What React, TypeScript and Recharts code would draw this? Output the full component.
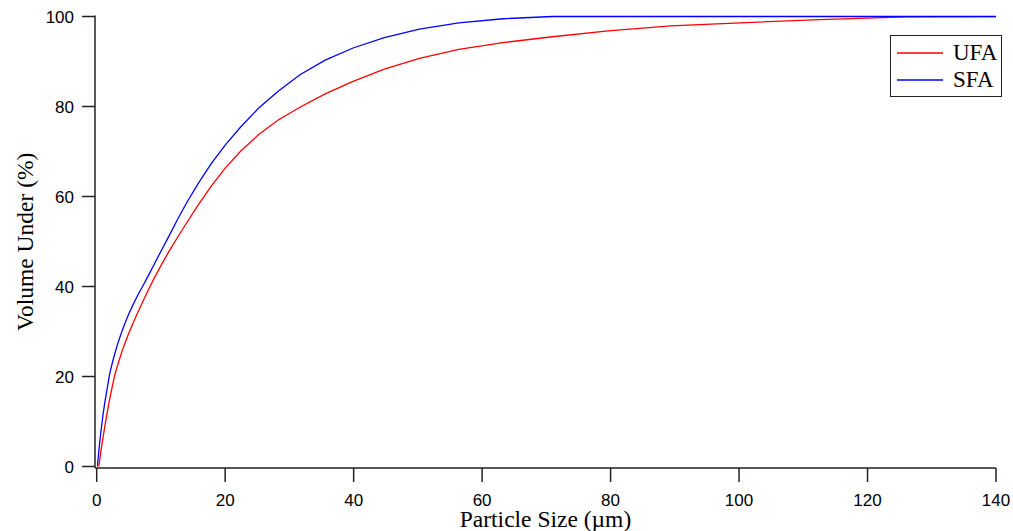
import React from 'react';
import { LineChart, Line, XAxis, YAxis, Legend } from 'recharts';

const sizes = [0.1, 0.2, 0.317, 0.502, 0.71, 1.002, 1.262, 1.589, 2.0, 2.244, 2.518, 2.825, 3.17, 3.557, 3.991, 4.477, 5.024, 5.637, 6.325, 7.096, 7.962, 8.934, 10.02, 11.25, 12.62, 14.16, 15.89, 17.83, 20.0, 22.44, 25.18, 28.25, 31.7, 35.57, 39.91, 44.77, 50.24, 56.37, 63.25, 70.96, 79.62, 89.34, 100.2, 112.5, 126.2, 141.6];

const ufaValues: (number | null)[] = [null, null, 0, 1.8, 3.9, 6.6, 8.9, 11.6, 14.8, 16.5, 18.4, 20.4, 22.1, 23.9, 25.8, 27.7, 29.7, 31.8, 34.0, 36.4, 39.0, 41.8, 44.7, 47.8, 51.0, 54.5, 58.3, 62.3, 66.3, 70.1, 73.7, 77.0, 79.9, 82.8, 85.6, 88.3, 90.7, 92.7, 94.2, 95.5, 96.8, 97.9, 98.6, 99.3, 99.9, 100];

const sfaValues: number[] = [0, 1.5, 3.2, 5.8, 8.4, 11.7, 14.2, 17.0, 20.4, 21.9, 23.5, 25.1, 26.8, 28.5, 30.3, 32.1, 34.0, 35.9, 37.9, 39.9, 42.2, 44.9, 47.9, 51.2, 55.0, 59.0, 63.1, 67.3, 71.4, 75.5, 79.6, 83.4, 87.1, 90.3, 93.0, 95.3, 97.2, 98.6, 99.5, 100, 100, 100, 100, 100, 100, 100];

const xTicks = [0, 20, 40, 60, 80, 100, 120, 140];
const yTicks = [0, 20, 40, 60, 80, 100];

const seriesNames = ['UFA', 'SFA'];
const seriesColors = ['#ff0000', '#0000ff'];

const data = sizes.map((s, i) => ({ size: s, ufa: ufaValues[i], sfa: sfaValues[i] }));

const tickStyle = { fontFamily: '"Liberation Sans", Arial, sans-serif', fontSize: 17, fill: '#000' };
const serif = '"Liberation Serif", "Times New Roman", serif';

const LegendBox = () => (
  <div
    style={{
      border: '1.5px solid #222',
      width: 112,
      height: 62,
      boxSizing: 'border-box',
      background: '#fff',
      fontFamily: serif,
      fontSize: 23,
      color: '#000',
      position: 'relative',
    }}
  >
    {seriesNames.map((n, i) => (
      <div key={n} style={{ position: 'absolute', left: 6, top: 4 + i * 27, height: 26, display: 'flex', alignItems: 'center' }}>
        <svg width={46} height={4} style={{ display: 'block' }}>
          <line x1={0} y1={2} x2={46} y2={2} stroke={seriesColors[i]} strokeWidth={1.3} />
        </svg>
        <span style={{ marginLeft: 10, lineHeight: '26px' }}>{n}</span>
      </div>
    ))}
  </div>
);

export default function App() {
  return (
    <div style={{ position: 'absolute', left: 0, top: 0, width: 1013, height: 531, background: '#fff' }}>
      <LineChart width={1013} height={531} data={data} margin={{ top: 15.5, right: 17, bottom: 0, left: 0 }}>
        <XAxis
          dataKey="size"
          type="number"
          domain={[0, 140]}
          ticks={xTicks}
          allowDataOverflow
          padding={{ left: 1.7, right: 0 }}
          height={63}
          tickSize={14}
          tickMargin={12}
          tick={tickStyle}
          axisLine={{ stroke: '#222', strokeWidth: 1.5 }}
          tickLine={{ stroke: '#222', strokeWidth: 1.5 }}
          label={{
            content: (props: any) => {
              const vb = props.viewBox || { x: 95, width: 901 };
              return (
                <text x={vb.x + vb.width / 2} y={526.5} textAnchor="middle" fontFamily={serif} fontSize={23.5} fill="#000">
                  Particle Size (µm)
                </text>
              );
            },
          }}
        />
        <YAxis
          type="number"
          domain={[0, 100]}
          ticks={yTicks}
          padding={{ top: 1, bottom: 1.5 }}
          width={95}
          tickSize={13}
          tickMargin={8}
          tick={tickStyle}
          axisLine={{ stroke: '#222', strokeWidth: 1.5 }}
          tickLine={{ stroke: '#222', strokeWidth: 1.5 }}
          label={{
            content: (props: any) => {
              const vb = props.viewBox || { y: 15.5, height: 452.5 };
              const cy = vb.y + vb.height / 2;
              return (
                <text x={33} y={cy} transform={`rotate(-90, 33, ${cy})`} textAnchor="middle" fontFamily={serif} fontSize={23.5} fill="#000">
                  Volume Under (%)
                </text>
              );
            },
          }}
        />
        <Legend
          layout="vertical"
          align="center"
          verticalAlign="middle"
          content={() => <LegendBox />}
          wrapperStyle={{ position: 'absolute', left: 890, top: 35, width: 'auto', height: 'auto' }}
        />
        <Line type="linear" dataKey="ufa" name="UFA" stroke={seriesColors[0]} strokeWidth={1.3} dot={false} activeDot={false} isAnimationActive={false} />
        <Line type="linear" dataKey="sfa" name="SFA" stroke={seriesColors[1]} strokeWidth={1.3} dot={false} activeDot={false} isAnimationActive={false} />
      </LineChart>
    </div>
  );
}
